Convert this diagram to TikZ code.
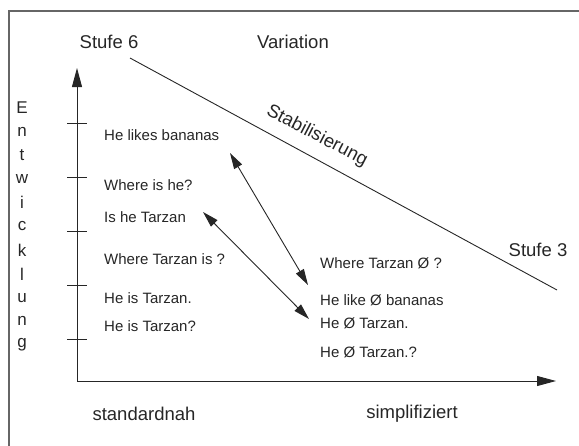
\documentclass[tikz,border=0pt]{standalone}
\usepackage{fontspec}
\setmainfont{Liberation Sans}
\usetikzlibrary{arrows.meta}
\begin{document}
\begin{tikzpicture}[x=1pt,y=-1pt,
  big/.style={font=\fontsize{18.5}{20}\selectfont, text=black!85, inner sep=0pt},
  small/.style={font=\fontsize{15}{17}\selectfont, text=black!85, inner sep=0pt, anchor=west},
  letter/.style={font=\fontsize{17}{18}\selectfont, text=black!85, inner sep=0pt},
  ln/.style={draw=black!85, line width=0.9pt},
  tip/.style={-{Triangle[length=19pt,width=10pt]}},
  dtip/.style={{Triangle[length=16pt,width=9pt]}-{Triangle[length=16pt,width=9pt]}}
]
\useasboundingbox (0,0) rectangle (579,445);
% frame (top and left edges visible)
\draw[draw=black!60, line width=1.2pt] (9,450) -- (9,11) -- (585,11);
% axes
\coordinate (origin) at (77,381);
\coordinate (ytop) at (77,68);
\coordinate (xend) at (556,381);
\draw[ln,tip] (origin) -- (ytop);
\draw[ln,tip] (origin) -- (xend);
\foreach \y in {123,177,231,285,339} \draw[ln] (67,\y) -- (87,\y);
% header labels
\node[big] (s6) at (109,42) {Stufe 6};
\node[big] (var) at (293,42) {Variation};
\node[big] (s3) at (538,250) {Stufe 3};
\coordinate (dA) at (130,58);
\coordinate (dB) at (557,290);
\draw[ln] (dA) -- (dB);
\node[big, rotate=-27.5] (stab) at (317,136) {Stabilisierung};
% vertical word
\foreach \l [count=\i from 0] in {E,n,t,w,i,c,k,l,u,n,g}
  \node[letter] (e\i) at (22,{108+23.7*\i}) {\l};
% left examples
\node[small] (l1) at (104,135) {He likes bananas};
\node[small] (l2) at (104,185) {Where is he?};
\node[small] (l3) at (104,217) {Is he Tarzan};
\node[small] (l4) at (104,259) {Where Tarzan is ?};
\node[small] (l5) at (104,298) {He is Tarzan.};
\node[small] (l6) at (104,326) {He is Tarzan?};
% right examples
\node[small] (r1) at (320,263) {Where Tarzan Ø ?};
\node[small] (r2) at (320,300) {He like Ø bananas};
\node[small] (r3) at (320,323) {He Ø Tarzan.};
\node[small] (r4) at (320,352) {He Ø Tarzan.?};
% bottom labels
\node[big] (sn) at (144,414) {standardnah};
\node[big] (si) at (412,414) {simplifiziert};
% double arrows
\coordinate (a1s) at (230,153);
\coordinate (a1e) at (308,285);
\coordinate (a2s) at (203,212);
\coordinate (a2e) at (309,319);
\draw[ln,dtip] (a1s) -- (a1e);
\draw[ln,dtip] (a2s) -- (a2e);
\end{tikzpicture}
\end{document}
